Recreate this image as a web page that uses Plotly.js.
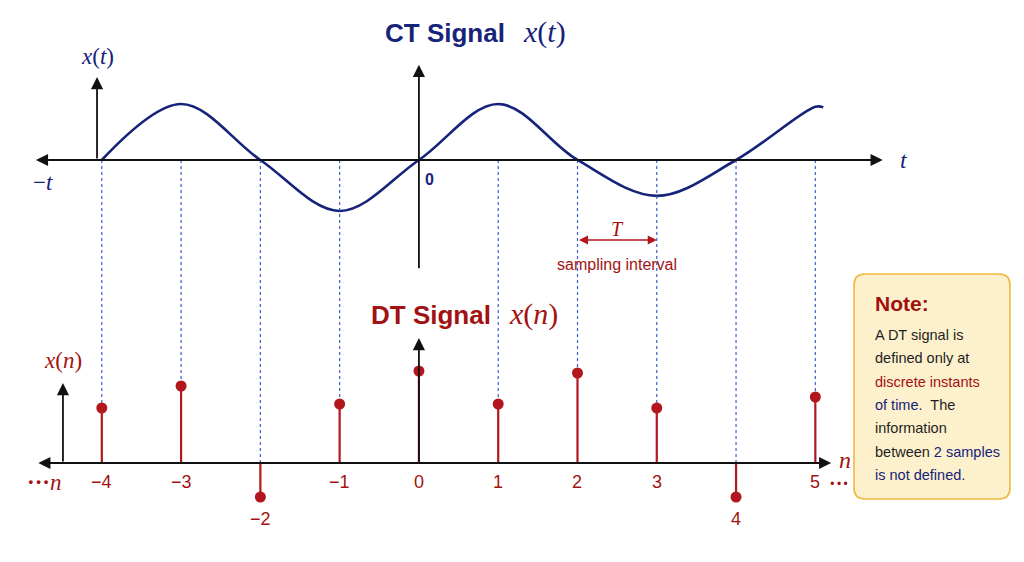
<!DOCTYPE html>
<html><head><meta charset="utf-8">
<script src="https://cdn.plot.ly/plotly-3.0.1.min.js"></script>
<style>html,body{margin:0;padding:0;background:#fff}</style>
</head><body><div id="chart" style="width:1024px;height:562px"></div>
<script>
// ---- data ----
const ctTime  = [-4, -3, -2, -1, 0, 1, 2, 3, 4, 5, 5.1];
const ctValue = [0, 1.0, 0, -0.91, 0, 1.0, 0, -0.64, 0, 0.95, 0.94];
const sampleN = [-4, -3, -2, -1, 0, 1, 2, 3, 4, 5];
const sampleValue = [0.55, 0.77, -0.34, 0.59, 0.92, 0.59, 0.90, 0.55, -0.34, 0.66];
const tickLabels = ['−4', '−3', '−2', '−1', '0', '1', '2', '3', '4', '5'];
const noteTitle = 'Note:';
const noteLines = [
  'A DT signal is',
  'defined only at',
  '<span style="color:#a31212">discrete instants</span>',
  '<span style="color:#16237a">of time.</span>&nbsp; The',
  'information',
  'between <span style="color:#16237a">2 samples</span>',
  '<span style="color:#16237a">is not defined.</span>'
];

// ---- styling ----
const NAVY = '#16237a', RED = '#a31212', STEM = '#b3161c', DASH = '#3a5fcd', INK = '#111111';
const SANS = 'Liberation Sans, Arial, sans-serif';
const SERIF = 'Liberation Serif, DejaVu Serif, serif';
const W = 1024, H = 562;
const XR = [-5.284, 7.632], YR = [-7.179, 2.857], Y2R = [-0.99, 4.63];
const ctZeroOnY2 = Y2R[0] + (0 - YR[0]) / (YR[1] - YR[0]) * (Y2R[1] - Y2R[0]);

// stems and guides built from the sample arrays
const stemX = [], stemY = [], guideX = [], guideY = [];
sampleN.forEach((n, i) => {
  stemX.push(n, n, null); stemY.push(0, sampleValue[i], null);
  if (n !== 0) { guideX.push(n, n, null); guideY.push(ctZeroOnY2, Math.max(sampleValue[i], 0), null); }
});

const traces = [
  {x: guideX, y: guideY, yaxis: 'y2', mode: 'lines', line: {color: DASH, width: 1.2, dash: '3px,3px'}, hoverinfo: 'skip'},
  {x: ctTime, y: ctValue, mode: 'lines', line: {color: NAVY, width: 2.6, shape: 'spline', smoothing: 1}, hoverinfo: 'skip'},
  {x: stemX, y: stemY, yaxis: 'y2', mode: 'lines', line: {color: STEM, width: 2.2}, hoverinfo: 'skip'},
  {x: sampleN, y: sampleValue, yaxis: 'y2', mode: 'markers', marker: {color: STEM, size: 11}, hoverinfo: 'skip'}
];

const px = v => v / W, py = v => 1 - v / H;
function roundRect(x0, y0, x1, y1, r) {
  const rx = r / W, ry = r / H;
  const a = px(x0), b = px(x1), t = py(y0), u = py(y1);
  return `M${a + rx},${t} L${b - rx},${t} Q${b},${t} ${b},${t - ry} L${b},${u + ry} Q${b},${u} ${b - rx},${u} ` +
         `L${a + rx},${u} Q${a},${u} ${a},${u + ry} L${a},${t - ry} Q${a},${t} ${a + rx},${t} Z`;
}

function arrow(x, y, ax, ay, yref, opts) {
  return Object.assign({x: x, y: y, ax: ax, ay: ay, xref: 'x', yref: yref, axref: 'x', ayref: yref,
    text: '', showarrow: true, arrowhead: 2, arrowsize: 1.35, arrowwidth: 1.8, arrowcolor: INK,
    standoff: 0, startstandoff: 0, arrowside: 'end'}, opts || {});
}
function label(x, y, text, font, opts) {
  return Object.assign({x: x, y: y, text: text, showarrow: false, font: font,
    xanchor: 'center', yanchor: 'middle'}, opts || {});
}

const ann = [];
// axes of CT plot
ann.push(arrow(5.85, 0, -4.85, 0, 'y', {arrowside: 'end+start'}));
ann.push(arrow(0, 1.70, 0, -1.96, 'y'));
ann.push(arrow(-4.06, 1.48, -4.06, 0, 'y'));
// axes of DT plot
ann.push(arrow(5.2, 0, -4.82, 0, 'y2', {arrowside: 'end+start'}));
ann.push(arrow(0, 1.25, 0, 0, 'y2'));
ann.push(arrow(-4.49, 0.80, -4.49, 0, 'y2'));
// sampling interval arrow
ann.push(arrow(3, -1.43, 2, -1.43, 'y', {arrowside: 'end+start', arrowcolor: STEM, arrowwidth: 1.5, arrowsize: 1.2}));

// titles
ann.push(label(px(507), py(33), 'CT Signal', {family: SANS, size: 26, color: NAVY, weight: 'bold'}, {xref: 'paper', yref: 'paper', xanchor: 'right'}));
ann.push(label(px(521), py(32), '<i>x</i>(<i>t</i>)', {family: SERIF, size: 30, color: NAVY}, {xref: 'paper', yref: 'paper', xanchor: 'left'}));
ann.push(label(px(493), py(315), 'DT Signal', {family: SANS, size: 26, color: RED, weight: 'bold'}, {xref: 'paper', yref: 'paper', xanchor: 'right'}));
ann.push(label(px(507), py(314), '<i>x</i>(<i>n</i>)', {family: SERIF, size: 30, color: RED}, {xref: 'paper', yref: 'paper', xanchor: 'left'}));

// CT labels
ann.push(label(-4.06, 0, '<i>x</i>(<i>t</i>)', {family: SERIF, size: 23, color: NAVY}, {xref: 'x', yref: 'y', yshift: 103}));
ann.push(label(-4.74, 0, '−<i>t</i>', {family: SERIF, size: 23, color: NAVY}, {xref: 'x', yref: 'y', yshift: -23}));
ann.push(label(6.12, 0, '<i>t</i>', {family: SERIF, size: 24, color: NAVY}, {xref: 'x', yref: 'y'}));
ann.push(label(0, 0, '0', {family: SANS, size: 16, color: NAVY, weight: 'bold'}, {xref: 'x', yref: 'y', xshift: 11, yshift: -20}));
ann.push(label(2.5, -1.43, '<i>T</i>', {family: SERIF, size: 20, color: RED}, {xref: 'x', yref: 'y', yshift: 11}));
ann.push(label(2.5, -1.43, 'sampling interval', {family: SANS, size: 16, color: RED}, {xref: 'x', yref: 'y', yshift: -24}));

// DT labels
ann.push(label(-4.49, 0, '<i>x</i>(<i>n</i>)', {family: SERIF, size: 23, color: RED}, {xref: 'x', yref: 'y2', yshift: 103}));
ann.push(label(-4.72, 0, '<b>···</b><i>n</i>', {family: SERIF, size: 23, color: RED}, {xref: 'x', yref: 'y2', yshift: -19}));
ann.push(label(5.38, 0, '<i>n</i>', {family: SERIF, size: 24, color: RED}, {xref: 'x', yref: 'y2', yshift: 3}));
ann.push(label(5.3, 0, '<b>···</b>', {family: SERIF, size: 20, color: RED}, {xref: 'x', yref: 'y2', yshift: -20}));
sampleN.forEach((n, i) => {
  const neg = sampleValue[i] < 0;
  ann.push(label(n, neg ? sampleValue[i] : 0, tickLabels[i], {family: SANS, size: 18, color: RED},
    {xref: 'x', yref: 'y2', yshift: neg ? -22 : -19}));
});

// note box text
ann.push(label(px(873), py(303), noteTitle, {family: SANS, size: 21, color: '#a01010', weight: 'bold'}, {xref: 'paper', yref: 'paper', xanchor: 'left'}));
const noteY = [335, 358, 382, 405, 428, 452, 475];
noteLines.forEach((t, i) => {
  ann.push(label(px(873), py(noteY[i]), t, {family: SANS, size: 14.5, color: '#1e1e1e'}, {xref: 'paper', yref: 'paper', xanchor: 'left'}));
});

const layout = {
  width: W, height: H, margin: {l: 0, r: 0, t: 0, b: 0},
  paper_bgcolor: '#ffffff', plot_bgcolor: '#ffffff', showlegend: false,
  xaxis: {range: XR, visible: false, fixedrange: true},
  yaxis: {range: YR, visible: false, fixedrange: true},
  yaxis2: {range: Y2R, visible: false, overlaying: 'y', fixedrange: true},
  shapes: [{type: 'path', xref: 'paper', yref: 'paper', path: roundRect(854, 274, 1010, 499, 11),
    fillcolor: '#fdf0cc', line: {color: '#f2b940', width: 1.6}, layer: 'below'}],
  annotations: ann
};
Plotly.newPlot('chart', traces, layout, {displayModeBar: false, staticPlot: true});
</script></body></html>
